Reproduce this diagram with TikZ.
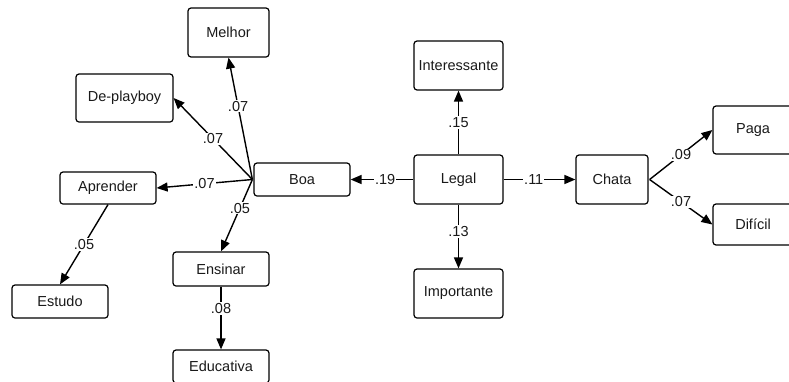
\documentclass[tikz,border=0pt]{standalone}
\usepackage{fontspec}
\setmainfont{Liberation Sans}
\usetikzlibrary{arrows.meta}
\begin{document}
\begin{tikzpicture}[x=1pt,y=-1pt,
  box/.style={draw, line width=1.2pt, rounded corners=3pt, inner sep=0pt, font=\fontsize{14.5}{17}\selectfont, text=black!90},
  conn/.style={line width=1.4pt, -{Triangle[length=11pt,width=9pt]}},
  lbl/.style={fill=white, inner sep=1pt, font=\fontsize{14.5}{17}\selectfont, text=black!90}]
\useasboundingbox (0,0) rectangle (789,381);
\clip (0,0) rectangle (789,381);
\node[box, minimum width=81pt, minimum height=49pt] (melhor) at (228.5,32.5) {Melhor};
\node[box, minimum width=97pt, minimum height=48pt] (deplayboy) at (124.5,98) {De-playboy};
\node[box, minimum width=96pt, minimum height=32pt] (aprender) at (108,188) {Aprender};
\node[box, minimum width=96pt, minimum height=33pt] (boa) at (302,179.5) {Boa};
\node[box, minimum width=96pt, minimum height=33pt] (estudo) at (60,301.5) {Estudo};
\node[box, minimum width=96pt, minimum height=34pt] (ensinar) at (221,269) {Ensinar};
\node[box, minimum width=96pt, minimum height=33pt] (educativa) at (221,366.5) {Educativa};
\node[box, minimum width=89pt, minimum height=49pt] (interessante) at (458.5,65.5) {Interessante};
\node[box, minimum width=89pt, minimum height=49pt] (legal) at (458.5,179.5) {Legal};
\node[box, minimum width=89pt, minimum height=49pt] (importante) at (458.5,293.5) {Importante};
\node[box, minimum width=72pt, minimum height=49pt] (chata) at (612,179.5) {Chata};
\node[box, minimum width=80pt, minimum height=48pt] (paga) at (753,130) {Paga};
\node[box, minimum width=80pt, minimum height=41pt] (dificil) at (753,224.5) {Difícil};
\coordinate (bj) at ([xshift=-1pt]boa.west);
\coordinate (cj) at ([xshift=1pt]chata.east);
\draw[conn] (bj) -- node[lbl, pos=0.6] {.07} (melhor.south);
\draw[conn] (bj) -- node[lbl] {.07} (deplayboy.east);
\draw[conn] (bj) -- node[lbl] {.07} (aprender.east);
\draw[conn] (bj) -- node[lbl, pos=0.4] {.05} (ensinar.north);
\draw[conn] (aprender.south) -- node[lbl] {.05} (estudo.north);
\draw[conn] (ensinar.south) -- node[lbl, pos=0.35] {.08} (educativa.north);
\draw[conn] (legal.west) -- node[lbl, pos=0.45] {.19} (boa.east);
\draw[conn] (legal.north) -- node[lbl] {.15} (interessante.south);
\draw[conn] (legal.south) -- node[lbl, pos=0.42] {.13} (importante.north);
\draw[conn] (legal.east) -- node[lbl, pos=0.42] {.11} (chata.west);
\draw[conn] (cj) -- node[lbl] {.09} (paga.west);
\draw[conn] (cj) -- node[lbl] {.07} (dificil.west);
\end{tikzpicture}
\end{document}
